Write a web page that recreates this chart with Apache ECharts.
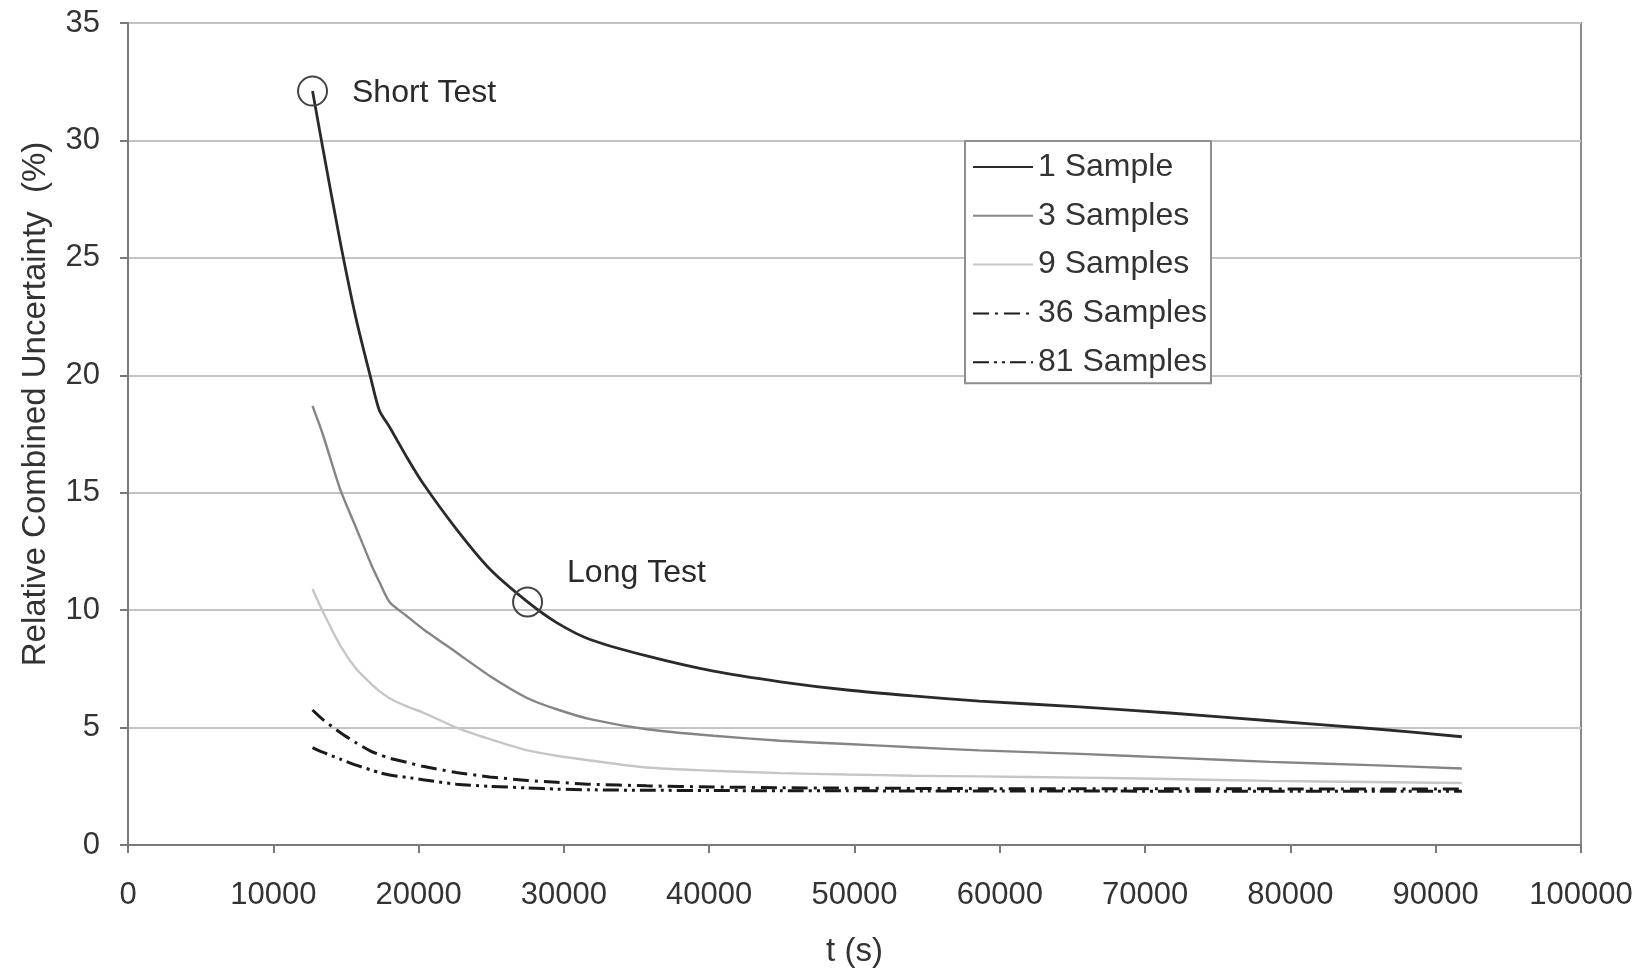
<!DOCTYPE html>
<html>
<head>
<meta charset="utf-8">
<script src="https://cdn.jsdelivr.net/npm/echarts@6/dist/echarts.min.js"></script>
<style>
html,body{margin:0;padding:0;background:#fff;}
#chart{width:1646px;height:973px;}
</style>
</head>
<body>
<div id="chart"></div>
<script>
// time (s)
const tValues = [12700, 13400, 14600, 15700, 16700, 17300, 18000, 19200, 20300, 22600, 24900, 27500, 29500, 31800, 35700, 40300, 44900, 49500, 54000, 58600, 65500, 71700, 78600, 85500, 91800];
// relative combined uncertainty (%)
const sample1  = [32.1, 29.7, 25.7, 22.4, 19.9, 18.5, 17.8, 16.5, 15.4, 13.45, 11.75, 10.35, 9.47, 8.75, 8.05, 7.4, 6.95, 6.6, 6.35, 6.13, 5.88, 5.62, 5.29, 4.96, 4.61];
const sample3  = [18.7, 17.5, 15.15, 13.5, 12.0, 11.2, 10.35, 9.74, 9.2, 8.2, 7.2, 6.25, 5.78, 5.36, 4.93, 4.65, 4.44, 4.3, 4.16, 4.03, 3.88, 3.72, 3.54, 3.4, 3.26];
const sample9  = [10.9, 9.95, 8.5, 7.5, 6.88, 6.55, 6.25, 5.9, 5.64, 5.0, 4.51, 4.03, 3.8, 3.6, 3.3, 3.16, 3.06, 3.0, 2.95, 2.92, 2.87, 2.81, 2.73, 2.68, 2.64];
const sample36 = [5.75, 5.35, 4.79, 4.35, 4.0, 3.85, 3.7, 3.52, 3.35, 3.09, 2.9, 2.75, 2.67, 2.59, 2.52, 2.47, 2.44, 2.42, 2.41, 2.40, 2.40, 2.39, 2.39, 2.38, 2.38];
const sample81 = [4.15, 3.95, 3.66, 3.4, 3.2, 3.08, 2.98, 2.88, 2.78, 2.59, 2.5, 2.43, 2.38, 2.35, 2.33, 2.32, 2.31, 2.31, 2.30, 2.30, 2.30, 2.29, 2.29, 2.29, 2.29];
const seriesNames = ['1 Sample', '3 Samples', '9 Samples', '36 Samples', '81 Samples'];
// annotated test points
const annotT = [12700, 27500];
const annotV = [32.1, 10.35];
const annotLabels = ['Short Test', 'Long Test'];

const pair = (vals) => tValues.map((t, i) => [t, vals[i]]);
const FONT = 'Liberation Sans, Arial, sans-serif';

const chart = echarts.init(document.getElementById('chart'));
const lineBase = { type: 'line', symbol: 'none', showSymbol: false, smooth: 0.25, animation: false, z: 3 };

chart.setOption({
  animation: false,
  backgroundColor: '#ffffff',
  textStyle: { fontFamily: FONT },
  grid: { left: 128, right: 65, top: 23, bottom: 127, show: true, borderColor: '#8a8a8a', borderWidth: 2 },
  legend: {
    data: seriesNames,
    orient: 'vertical',
    left: 965, top: 141,
    padding: [10, 4, 5, 7],
    itemGap: 16.8,
    itemWidth: 60, itemHeight: 14,
    itemStyle: { opacity: 0 },
    backgroundColor: '#ffffff',
    borderColor: '#8f8f8f', borderWidth: 2,
    textStyle: { fontSize: 32, color: '#333', fontFamily: FONT }
  },
  xAxis: {
    type: 'value', min: 0, max: 100000, interval: 10000,
    name: 't (s)', nameLocation: 'middle', nameGap: 90,
    nameTextStyle: { fontSize: 33, color: '#333', fontFamily: FONT },
    axisLine: { show: true, lineStyle: { color: '#7a7a7a', width: 2 } },
    axisTick: { show: true, length: 8, lineStyle: { color: '#7a7a7a', width: 2 } },
    axisLabel: { fontSize: 31, color: '#333', margin: 35, fontFamily: FONT, formatter: (v) => String(v) },
    splitLine: { show: false }
  },
  yAxis: {
    type: 'value', min: 0, max: 35, interval: 5,
    name: 'Relative Combined Uncertainty  (%)', nameLocation: 'middle', nameGap: 76,
    nameTextStyle: { fontSize: 33, color: '#333', fontFamily: FONT, padding: [0, 0, 0, 60] },
    axisLine: { show: true, lineStyle: { color: '#7a7a7a', width: 2 } },
    axisTick: { show: true, length: 8, lineStyle: { color: '#7a7a7a', width: 2 } },
    axisLabel: { fontSize: 31, color: '#333', margin: 28, fontFamily: FONT },
    splitLine: { show: true, lineStyle: { color: '#c4c4c4', width: 2 } }
  },
  series: [
    Object.assign({}, lineBase, { name: seriesNames[0], data: pair(sample1), lineStyle: { color: '#2a2a2a', width: 2.8 }, itemStyle: { color: '#2a2a2a' } }),
    Object.assign({}, lineBase, { name: seriesNames[1], data: pair(sample3), lineStyle: { color: '#858585', width: 2.4 }, itemStyle: { color: '#858585' } }),
    Object.assign({}, lineBase, { name: seriesNames[2], data: pair(sample9), lineStyle: { color: '#c6c6c6', width: 2.4 }, itemStyle: { color: '#c6c6c6' } }),
    Object.assign({}, lineBase, { name: seriesNames[3], data: pair(sample36), lineStyle: { color: '#1a1a1a', width: 3, type: [16, 6, 3, 6] }, itemStyle: { color: '#1a1a1a' } }),
    Object.assign({}, lineBase, { name: seriesNames[4], data: pair(sample81), lineStyle: { color: '#1a1a1a', width: 3, type: [16, 5, 3, 5, 3, 5] }, itemStyle: { color: '#1a1a1a' } }),
    {
      type: 'scatter', name: 'annotations', z: 5,
      symbol: 'circle', symbolSize: 29,
      itemStyle: { color: 'transparent', borderColor: '#444', borderWidth: 2, opacity: 1 },
      data: annotT.map((t, i) => ({
        value: [t, annotV[i]],
        label: {
          show: true, position: 'right', distance: 24,
          formatter: annotLabels[i],
          fontSize: 32, color: '#2a2a2a', opacity: 1, fontFamily: FONT,
          offset: i === 1 ? [0, -29] : [0, 2]
        }
      }))
    }
  ]
});
</script>
</body>
</html>
